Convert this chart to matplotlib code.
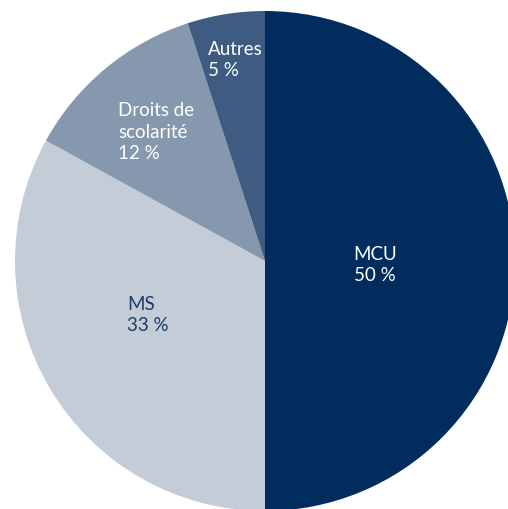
import matplotlib.pyplot as plt

# répartition des revenus
labels = ['MCU', 'MS', 'Droits de\nscolarité', 'Autres']
values = [50, 33, 12, 5]
colors = ['#002d5e', '#c3ccd7', '#8698ae', '#3e5b81']
text_colors = ['white', '#1d3a68', 'white', 'white']

fig = plt.figure(figsize=(5.08, 5.10), dpi=100)
ax = fig.add_axes([0, 0, 1, 1])

ax.pie(values, colors=colors, startangle=90, counterclock=False,
       center=(265, 248), radius=250, frame=True,
       wedgeprops=dict(linewidth=0))
ax.set_xlim(0, 508)
ax.set_ylim(0, 510)
ax.set_aspect('equal')
ax.axis('off')

# label positions (pixel coords, y from bottom)
pos = [(375, 245, 'center'), (127, 195, 'left'), (118, 378, 'left'), (208, 450, 'left')]
for lab, v, c, (x, y, ha) in zip(labels, values, text_colors, pos):
    ax.text(x, y, f'{lab}\n{v} %', color=c, ha=ha, va='center',
            fontsize=13.5, family='Lato', linespacing=1.32)

fig.savefig('out.png', dpi=100)
